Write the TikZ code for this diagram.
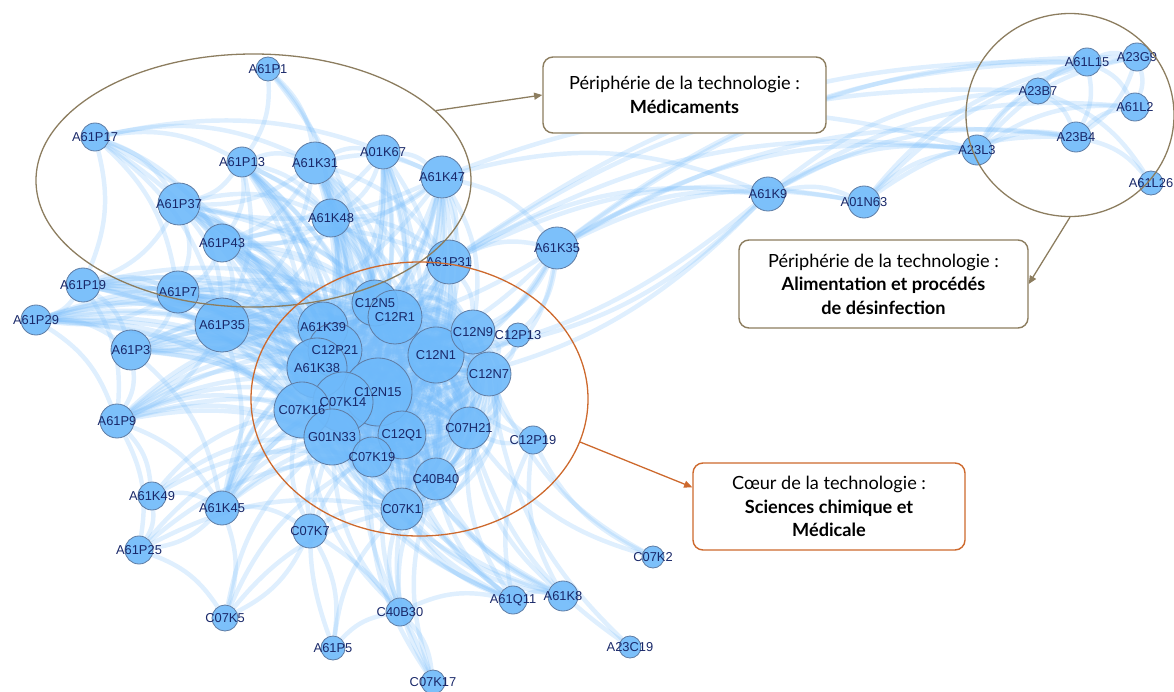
\documentclass[tikz,border=0pt]{standalone}
\usepackage{fontspec}
\setmainfont{Liberation Sans}
\newfontfamily\boxfont{Lato}
\usepackage{tikz}
\usetikzlibrary{shapes.geometric, arrows.meta, backgrounds}
\definecolor{nodeblue}{RGB}{110,185,250}
\definecolor{nodeline}{RGB}{95,125,165}
\definecolor{labelnavy}{RGB}{25,40,105}
\definecolor{linkblue}{RGB}{120,188,250}
\definecolor{periphbrown}{RGB}{140,125,95}
\definecolor{coreorange}{RGB}{205,105,45}

\begin{document}
\begin{tikzpicture}[
  x=0.03cm, y=0.03cm,
  gnode/.style={circle, draw=nodeline, fill=nodeblue, fill opacity=0.9, line width=0.7pt, inner sep=0pt},
  glabel/.style={font=\fontsize{11}{11}\selectfont, text=labelnavy, inner sep=0pt},
  link/.style={draw=linkblue, line width=3.8pt, opacity=0.24, bend left=18},
  ring/.style={ellipse, draw, line width=1.1pt, inner sep=0pt},
  tbox/.style={rectangle, rounded corners=0.3cm, draw, fill=white, line width=1.2pt,
               align=center, font=\boxfont\fontsize{15.5}{20}\selectfont},
  arrow/.style={-{Triangle[length=7pt, width=6pt]}, line width=1.1pt}
]
\useasboundingbox (0,0) rectangle (1174,-691);

% patent classes: name / x / y / radius (px)
\foreach \n/\x/\y/\r in {
  A61P1/268/69/12, A61P17/95/137/14, A61P13/242/162/15, A61K31/315/163/21,
  A01K67/383/152/17, A61K47/442/177/21, A61P37/179/204/21, A61K48/331/218/19,
  A61P43/222/243/19, A61P31/449/262/22, A61K35/557/248/21, A61P19/83/285/17,
  A61P7/178/292/21, A61P29/36/320/15, A61P35/222/325/27, A61P3/131/350/20,
  A61P9/117/421/17, A61K49/152/496/14, A61K45/222/508/17, A61P25/139/550/14,
  C07K7/310/531/17, C07K5/225/618/13, A61P5/333/648/12, C40B30/400/612/14,
  C07K17/433/682/12, A61Q11/513/600/14, A61K8/563/596/15, C07K2/653/557/11,
  A23C19/630/647/11,
  C12N5/375/303/23, C12R1/395/317/27, A61K39/323/327/25, C12P21/335/350/27,
  A61K38/317/368/30, C12N15/378/392/34, C07K14/343/402/30, C07K16/302/410/28,
  G01N33/332/437/28, C12Q1/402/435/24, C07K19/372/457/20, C12N1/436/355/28,
  C12N9/473/332/22, C12P13/518/335/12, C12N7/489/374/22, C07H21/469/428/21,
  C12P19/533/440/14, C40B40/436/479/21, C07K1/402/509/21,
  A61K9/768/194/17, A01N63/864/202/16, A23L3/977/150/15, A23B7/1038/91/13,
  A61L15/1087/62/14, A23G9/1137/57/14, A61L2/1135/107/14, A23B4/1076/137/15,
  A61L26/1151/183/12}
  \node[gnode, minimum size=\r*0.6mm] (\n) at (\x,-\y) {};

\foreach \n in {A61P1,A61P17,A61P13,A61K31,A01K67,A61K47,A61P37,A61K48,A61P43,
  A61P31,A61K35,A61P19,A61P7,A61P29,A61P35,A61P3,A61P9,A61K49,A61K45,A61P25,
  C07K7,C07K5,A61P5,C40B30,C07K17,A61Q11,A61K8,C07K2,A23C19,C12N5,C12R1,
  A61K39,C12P21,A61K38,C12N15,C07K14,C07K16,G01N33,C12Q1,C07K19,C12N1,C12N9,
  C12P13,C12N7,C07H21,C12P19,C40B40,C07K1,A61K9,A01N63,A23L3,A23B7,A61L15,
  A23G9,A61L2,A23B4,A61L26}
  \node[glabel] (\n-t) at (\n) {\n};

% co-occurrence links
\begin{scope}[on background layer]
% core: every pair, three arcs each
\foreach \bd in {18,-28,45}
\foreach \a [count=\i] in {C12N5,C12R1,A61K39,C12P21,A61K38,C12N15,C07K14,C07K16,
    G01N33,C12Q1,C07K19,C12N1,C12N9,C12N7,C07H21,C40B40,C07K1}
  \foreach \b [count=\j] in {C12N5,C12R1,A61K39,C12P21,A61K38,C12N15,C07K14,C07K16,
    G01N33,C12Q1,C07K19,C12N1,C12N9,C12N7,C07H21,C40B40,C07K1}
    {\ifnum\j>\i \draw[link, bend left=\bd] (\a) to (\b); \fi}

% big periphery nodes to the core
\foreach \s in {A61P35,A61P7,A61P3,A61P37,A61P43,A61K48,A61K31,A61P31,A61K47,
    A01K67,A61P13,A61P19,A61P29,A61P9,A61K45}
  \foreach \t in {C12N15,A61K38,C07K16,G01N33,C12N1,C12R1,C12Q1,C07K19,C07K14,A61K39,C12P21}
    {\draw[link] (\s) to (\t);}

\foreach \s/\tl in {
  A61P1/{A61P13,A61K31,A61K48,C12N15},
  A61P17/{A61P13,A61P37,A61P43,A61P7,A61P19,A61P35,A61K38,C07K16,A61K47,A61K31},
  A61P13/{A61K31,A61P37,A61P43,A61K48,A61P35},
  A61K31/{A01K67,A61K48,A61K47,A61P37,A61P43,C12N5,A61P35,A61P31},
  A01K67/{A61K47,A61K48,A61P43},
  A61K47/{A61K48,A61P31,A61K35,C12N9,A61P35,A61P43,A61P37,A61K9,A23L3},
  A61P37/{A61P43,A61P7,A61P35,A61K48,A61P19},
  A61K48/{A61P43,A61P31,C12N5,A61P35},
  A61P43/{A61P7,A61P35,A61P31},
  A61P31/{A61K35,C12N9,A61P35,A61K9,A01N63,A23L3,A23B7,A61L15},
  A61K35/{A61K9,A01N63,A23L3,A23B4,A61L15,A23G9,C12N1,C12N15,C12N9,C12N7,C12P13,A61P35,A61K38},
  A61K9/{A01N63,A23L3,A23B7,A23B4,A61L2,C12N15,C12N1,A61K38},
  A01N63/{A23L3,A23B4,A61L15,A23G9},
  A23L3/{A23B7,A23B4,A61L15,A23G9,A61L2},
  A23B7/{A23B4,A61L15,A61L26},
  A61L15/{A23G9,A61L2,A23B4},
  A23G9/{A61L2,A23B4},
  A23B4/{A61L2,A61L26},
  A61P19/{A61P29,A61P7,A61P3,A61P35,A61P9},
  A61P7/{A61P35,A61P3,A61P29},
  A61P29/{A61P3,A61P35,A61P9},
  A61P35/{A61P3,A61P9,A61K45},
  A61P3/{A61P9,A61K45},
  A61P9/{A61K49,A61K45,A61P25},
  A61K49/{A61P25,A61K45,C07K16,G01N33,C07K19},
  A61K45/{A61P25,C07K7,C07K5},
  A61P25/{G01N33,C07K19,C07K1,C07K5},
  C07K7/{C07K5,A61P5,G01N33,C07K1,C12Q1,C07K17,C07K16},
  C07K5/{G01N33,C07K19,C07K1},
  A61P5/{C40B30,G01N33,C07K1},
  C40B30/{C40B40,C07K1,C12Q1,G01N33,C07K17,A61Q11,C12N15,C07K16},
  C07K17/{C07K1,C07K19,C40B40},
  A61Q11/{A61K8,C07K1,C40B40,C12Q1,C07H21,C12P19,G01N33,C12N15,C07K19,C07K16},
  A61K8/{C07K1,C40B40,C07H21,C12P19,C12Q1,C12N15,G01N33,C07K19},
  C07K2/{C12P19,C12N7,C07H21},
  A23C19/{C07H21,C12N7},
  C12P13/{C12N9,C12N1,C12N7},
  C12P19/{C07H21,C12N1,C12N7}}
  {\foreach \t in \tl {\draw[link] (\s) to (\t);}}
\end{scope}

% clusters
\node[ring, draw=periphbrown, minimum width=13.05cm, minimum height=7.59cm] (medring) at (253.5,-180.5) {};
\node[ring, draw=coreorange, minimum width=10.11cm, minimum height=8.22cm] (corering) at (419.5,-399) {};
\node[ring, draw=periphbrown, minimum width=6.24cm, minimum height=6.09cm] (foodring) at (1070,-115) {};

\node[tbox, draw=periphbrown, minimum width=8.49cm, minimum height=2.28cm] (medbox) at (684.5,-95)
  {Périphérie de la technologie :\\\textbf{Médicaments}};
\node[tbox, draw=periphbrown, minimum width=8.67cm, minimum height=2.64cm] (foodbox) at (883.5,-284)
  {Périphérie de la technologie :\\\textbf{Alimentation et procédés}\\\textbf{de désinfection}};
\node[tbox, draw=coreorange, minimum width=8.16cm, minimum height=2.61cm] (corebox) at (829,-506.5)
  {Cœur de la technologie :\\\textbf{Sciences chimique et}\\\textbf{Médicale}};

\draw[arrow, periphbrown] (medring.21) -- (medbox.west);
\draw[arrow, periphbrown] (foodring.south) -- (foodbox.east);
\draw[arrow, coreorange] (corering.-15) -- (corebox.172);

\end{tikzpicture}
\end{document}
